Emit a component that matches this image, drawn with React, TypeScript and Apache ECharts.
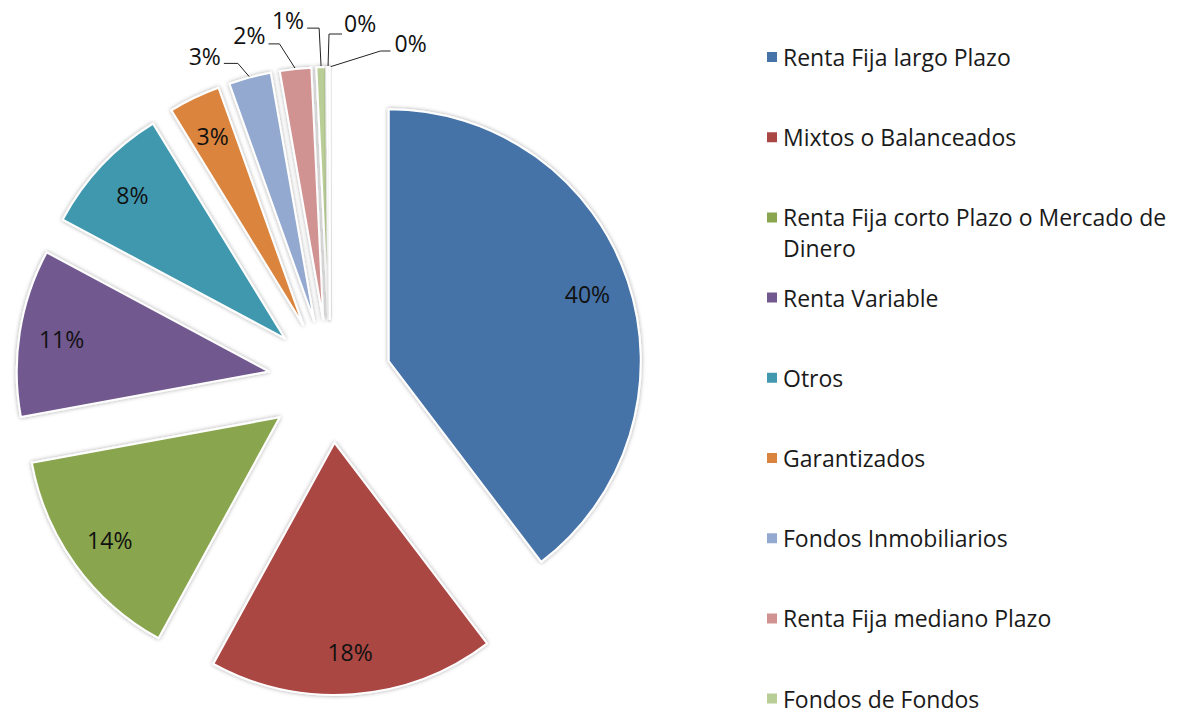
import React, { useEffect, useRef } from 'react';
import * as echarts from 'echarts';

const categories = [
  'Renta Fija largo Plazo',
  'Mixtos o Balanceados',
  'Renta Fija corto Plazo o Mercado de Dinero',
  'Renta Variable',
  'Otros',
  'Garantizados',
  'Fondos Inmobiliarios',
  'Renta Fija mediano Plazo',
  'Fondos de Fondos',
  'Fondos Sin Clasificar',
  'Fondos Estructurados',
];
const values = [39.6, 18.3, 14.1, 10.7, 8.4, 3.3, 2.7, 2.0, 0.6, 0.1, 0.05];
const colors = [
  '#4572A7', '#AA4643', '#89A54E', '#71588F', '#4198AF',
  '#DB843D', '#93A9CF', '#D19392', '#B9CD96', '#A99BBD', '#92C3D4',
];
const legendLabels = [
  'Renta Fija largo Plazo',
  'Mixtos o Balanceados',
  'Renta Fija corto Plazo o Mercado de\nDinero',
  'Renta Variable',
  'Otros',
  'Garantizados',
  'Fondos Inmobiliarios',
  'Renta Fija mediano Plazo',
  'Fondos de Fondos',
];
const INSIDE_COUNT = 6;

const FONT = '"Open Sans", "Noto Sans", sans-serif';

// leader-line layout for the outside labels, relative to the slice tip
const OUTSIDE_LAYOUT: Record<number, { elbow: number[]; end: number[]; label: number[]; align: string }> = {
  6: { elbow: [-12, -14], end: [-26, -14], label: [-29, -21], align: 'right' },
  7: { elbow: [-16, -25], end: [-27, -25], label: [-30, -34], align: 'right' },
  8: { elbow: [-2, -39], end: [-14, -39], label: [-17, -47], align: 'right' },
  9: { elbow: [1, -33], end: [14, -33], label: [16, -44], align: 'left' },
  10: { elbow: [51, -16], end: [61, -16], label: [65, -24], align: 'left' },
};

export default function App() {
  const ref = useRef<HTMLDivElement>(null);
  useEffect(() => {
    if (!ref.current) return;
    const chart = echarts.init(ref.current, undefined, { renderer: 'svg' });
    const fmt = (p: any) => Math.round(p.percent) + '%';
    const center = [330, 381];
    const R = 252;
    const OFFSET = 62;
    const LABEL_FRAC = 0.82;
    const FS = 23;

    const total = values.reduce((a, b) => a + b, 0);
    const mids: number[] = [];
    let acc = 0;
    values.forEach((v) => {
      mids.push(acc + v / 2);
      acc += v;
    });
    const tip = (i: number) => {
      const a = (mids[i] / total) * 2 * Math.PI;
      const r = R + OFFSET;
      return [center[0] + r * Math.sin(a), center[1] - r * Math.cos(a)];
    };

    const outsideGraphics: any[] = [];
    values.forEach((v, i) => {
      const cfg = OUTSIDE_LAYOUT[i];
      if (!cfg) return;
      const t = tip(i);
      outsideGraphics.push({
        type: 'polyline',
        silent: true,
        shape: {
          points: [
            [t[0], t[1]],
            [t[0] + cfg.elbow[0], t[1] + cfg.elbow[1]],
            [t[0] + cfg.end[0], t[1] + cfg.end[1]],
          ],
        },
        style: { stroke: '#222', lineWidth: 1, fill: 'none' },
      });
      outsideGraphics.push({
        type: 'text',
        silent: true,
        style: {
          text: Math.round((v / total) * 100) + '%',
          x: t[0] + cfg.label[0],
          y: t[1] + cfg.label[1],
          align: cfg.align,
          verticalAlign: 'middle',
          fontSize: FS,
          fontFamily: FONT,
          fill: '#111',
        },
      });
    });

    const legends = legendLabels.map((lbl, i) => {
      const twoLine = lbl.indexOf('\n') >= 0;
      const yc = 57 + i * 80.2;
      const lh = twoLine ? 31 : 24;
      return {
        data: [{ name: categories[i], icon: 'rect', itemStyle: { color: colors[i] } }],
        orient: 'vertical',
        left: 765,
        top: yc - (twoLine ? 46.5 : 12),
        padding: 0,
        itemWidth: 12,
        itemHeight: 12,
        itemGap: 0,
        selectedMode: false,
        formatter: () => (twoLine ? '\n' + lbl : lbl),
        textStyle: {
          fontSize: FS,
          lineHeight: lh,
          color: '#1a1a1a',
          fontFamily: FONT,
        },
      };
    });

    chart.setOption({
      animation: false,
      backgroundColor: '#fff',
      legend: legends,
      graphic: outsideGraphics,
      series: [
        {
          type: 'pie',
          center,
          radius: R,
          startAngle: 90,
          clockwise: true,
          selectedMode: 'multiple',
          selectedOffset: OFFSET,
          minShowLabelAngle: 0,
          emphasis: { disabled: true },
          itemStyle: {
            borderColor: '#fff',
            borderWidth: 2,
            shadowBlur: 4,
            shadowColor: 'rgba(0,0,0,0.35)',
          },
          label: { show: false },
          labelLine: { show: false },
          data: values.map((v, i) => ({
            name: categories[i],
            value: v,
            selected: true,
            itemStyle: { color: colors[i] },
          })),
        },
        {
          type: 'pie',
          center,
          radius: R * 2 * LABEL_FRAC,
          startAngle: 90,
          clockwise: true,
          silent: true,
          selectedMode: 'multiple',
          selectedOffset: OFFSET,
          minShowLabelAngle: 0,
          emphasis: { disabled: true },
          itemStyle: { color: 'rgba(0,0,0,0)', borderWidth: 0 },
          label: {
            position: 'inside',
            formatter: fmt,
            fontSize: FS,
            color: '#111',
            fontFamily: FONT,
          },
          labelLine: { show: false },
          data: values.map((v, i) => ({
            name: categories[i],
            value: v,
            selected: true,
            itemStyle: { color: 'rgba(0,0,0,0)' },
            label: { show: i < INSIDE_COUNT },
          })),
        },
      ],
    });
    return () => chart.dispose();
  }, []);
  return (
    <div
      ref={ref}
      style={{ position: 'fixed', left: 0, top: 0, width: 1178, height: 714 }}
    />
  );
}
